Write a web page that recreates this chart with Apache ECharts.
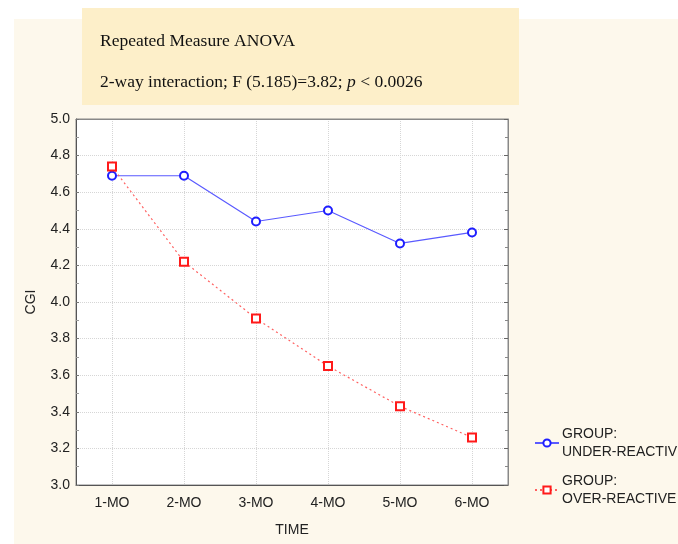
<!DOCTYPE html>
<html>
<head>
<meta charset="utf-8">
<script src="https://cdn.jsdelivr.net/npm/echarts@6/dist/echarts.min.js"></script>
<style>
  html, body { margin: 0; padding: 0; background: #fff; }
  #main { width: 678px; height: 544px; }
</style>
</head>
<body>
<div id="main"></div>
<script>
const timePoints = ['1-MO', '2-MO', '3-MO', '4-MO', '5-MO', '6-MO']
const underReactive = [4.69, 4.69, 4.44, 4.50, 4.32, 4.38]
const overReactive = [4.74, 4.22, 3.91, 3.65, 3.43, 3.26]
const seriesNames = ['GROUP:\nUNDER-REACTIVE', 'GROUP:\nOVER-REACTIVE']

const chart = echarts.init(document.getElementById('main'))

const labelFont = { color: '#222', fontFamily: 'Liberation Sans', fontSize: 14 }

chart.setOption({
  backgroundColor: '#fff',
  animation: false,
  graphic: [
    // beige panel behind the chart
    { type: 'rect', z: -10, shape: { x: 14, y: 19, width: 664, height: 525 }, style: { fill: '#fdf8ec' } },
    // annotation box
    { type: 'rect', z: -9, shape: { x: 82, y: 8, width: 437, height: 97 }, style: { fill: '#fdefc9' } },
    {
      type: 'text', left: 100, top: 32,
      style: { text: 'Repeated Measure ANOVA', fill: '#111', font: '17.5px "Liberation Serif"' }
    },
    {
      type: 'text', left: 100, top: 73,
      style: {
        text: '2-way interaction; F (5.185)=3.82; {i|p} < 0.0026',
        fill: '#111',
        font: '17.5px "Liberation Serif"',
        rich: { i: { fontStyle: 'italic', fontFamily: 'Liberation Serif', fontSize: 17.5, fill: '#111' } }
      }
    }
  ],
  grid: { left: 76, right: 170, top: 119, bottom: 59, show: true, backgroundColor: '#fff', borderColor: '#888', borderWidth: 1 },
  legend: {
    orient: 'vertical',
    left: 529,
    top: 420,
    itemWidth: 24,
    itemHeight: 9,
    itemGap: 11,
    textStyle: { color: '#222', fontFamily: 'Liberation Sans', fontSize: 14, lineHeight: 18, padding: [0, 0, 0, -2] },
    data: seriesNames
  },
  xAxis: [
    {
      type: 'category',
      data: timePoints,
      boundaryGap: true,
      name: 'TIME',
      nameLocation: 'middle',
      nameGap: 38,
      nameTextStyle: labelFont,
      axisLine: { lineStyle: { color: '#555' } },
      axisTick: { inside: true, alignWithLabel: true, length: 4, lineStyle: { color: '#777' } },
      axisLabel: Object.assign({ margin: 11 }, labelFont),
      splitLine: { show: true, alignWithLabel: true, lineStyle: { color: '#d6d6d6', type: 'dotted' } }
    },
    {
      type: 'category',
      data: timePoints,
      position: 'top',
      boundaryGap: true,
      axisLine: { lineStyle: { color: '#888' } },
      axisTick: { inside: true, alignWithLabel: true, length: 4, lineStyle: { color: '#777' } },
      axisLabel: { show: false },
      splitLine: { show: false }
    }
  ],
  yAxis: [
    {
      type: 'value',
      min: 3,
      max: 5,
      interval: 0.2,
      name: 'CGI',
      nameLocation: 'middle',
      nameGap: 38,
      nameTextStyle: labelFont,
      axisLine: { show: true, lineStyle: { color: '#555' } },
      axisTick: { show: true, inside: true, length: 3, lineStyle: { color: '#777' } },
      minorTick: { show: true, splitNumber: 2, length: 3, lineStyle: { color: '#999' } },
      axisLabel: Object.assign({ margin: 6, formatter: v => v.toFixed(1) }, labelFont),
      splitLine: { show: true, lineStyle: { color: '#d6d6d6', type: 'dotted' } }
    },
    {
      type: 'value',
      min: 3,
      max: 5,
      interval: 0.2,
      position: 'right',
      axisLine: { show: true, lineStyle: { color: '#888' } },
      axisTick: { show: true, inside: true, length: 4, lineStyle: { color: '#666' } },
      minorTick: { show: true, splitNumber: 2, length: 3, lineStyle: { color: '#888' } },
      axisLabel: { show: false },
      splitLine: { show: false }
    }
  ],
  series: [
    {
      name: seriesNames[0],
      type: 'line',
      data: underReactive,
      symbol: 'emptyCircle',
      symbolSize: 8,
      lineStyle: { color: '#5a5aff', width: 1.2 },
      itemStyle: { color: '#1e1eff', borderWidth: 2 }
    },
    {
      name: seriesNames[1],
      type: 'line',
      data: overReactive,
      symbol: 'emptyRect',
      symbolSize: 8,
      lineStyle: { color: '#ff6060', width: 1.2, type: [2, 3] },
      itemStyle: { color: '#ff1a1a', borderWidth: 2 }
    }
  ]
})
</script>
</body>
</html>
